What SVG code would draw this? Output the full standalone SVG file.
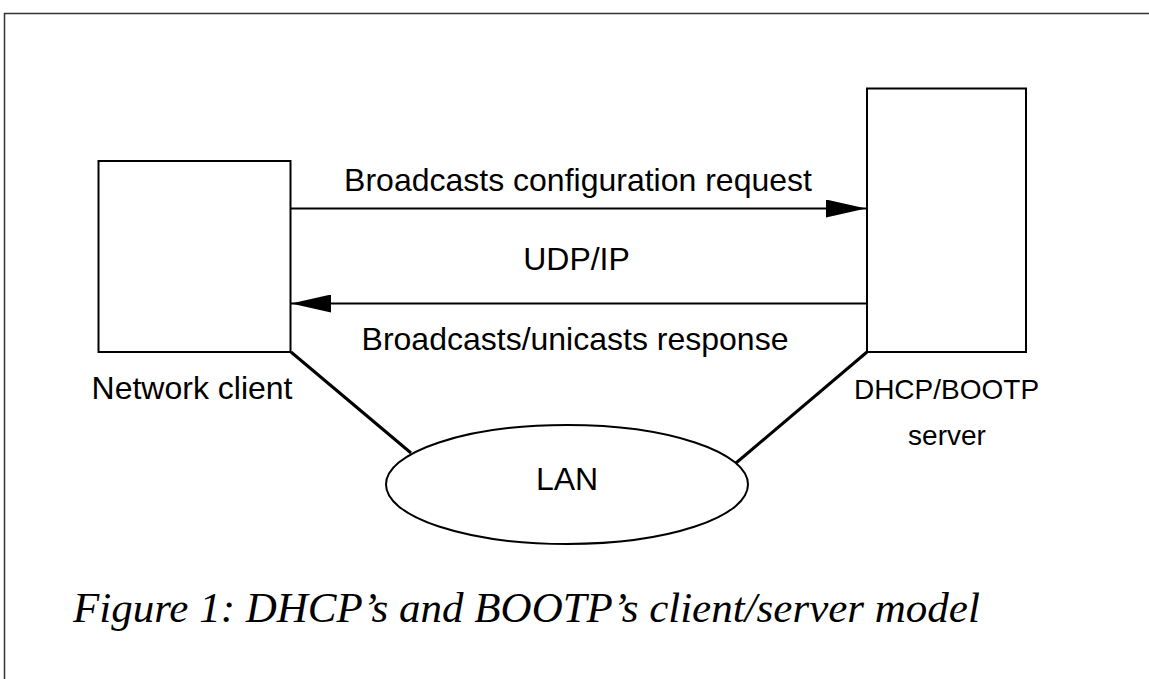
<svg xmlns="http://www.w3.org/2000/svg" width="1149" height="679" viewBox="0 0 1149 679">
  <style>
    .box { fill: #fff; stroke: #000; stroke-width: 2; }
    .lbl { font-family: "Liberation Sans", Arial, sans-serif; font-size: 32px; fill: #000; text-anchor: middle; }
    .srv { font-size: 28px; }
    .cap { font-family: "Liberation Serif", "Times New Roman", serif; font-style: italic; font-size: 43px; fill: #000; }
    .conn { stroke: #000; stroke-width: 2; fill: none; }
    .link { stroke: #000; stroke-width: 3; fill: none; }
  </style>
  <defs>
    <marker id="arrow" markerUnits="userSpaceOnUse" markerWidth="40" markerHeight="18" refX="40" refY="9" orient="auto">
      <path d="M0,0 L40,9 L0,18 Z" fill="#000"/>
    </marker>
  </defs>
  <rect width="1149" height="679" fill="#fff"/>
  <path d="M4.5,679 V13.5 H1149" fill="none" stroke="#333" stroke-width="1.5"/>

  <g id="connectors">
    <line class="conn" x1="291" y1="208.5" x2="866" y2="208.5" marker-end="url(#arrow)"/>
    <line class="conn" x1="866" y1="303.5" x2="291" y2="303.5" marker-end="url(#arrow)"/>
    <line class="link" x1="291" y1="352" x2="411" y2="453"/>
    <line class="link" x1="867" y1="352" x2="736" y2="463"/>
    <text class="lbl" x="578" y="191">Broadcasts configuration request</text>
    <text class="lbl" x="576.5" y="270">UDP/IP</text>
    <text class="lbl" x="575" y="350">Broadcasts/unicasts response</text>
  </g>

  <g id="network-client">
    <rect class="box" x="98.5" y="161" width="192" height="191"/>
    <text class="lbl" x="192" y="399">Network client</text>
  </g>

  <g id="dhcp-server">
    <rect class="box" x="867" y="88.5" width="159" height="263.5"/>
    <text class="lbl srv" x="946.5" y="399">DHCP/BOOTP</text>
    <text class="lbl srv" x="947" y="445">server</text>
  </g>

  <g id="lan">
    <ellipse class="box" cx="567" cy="484.5" rx="181" ry="59.5"/>
    <text class="lbl" x="567" y="490">LAN</text>
  </g>

  <text class="cap" x="73" y="622">Figure 1: DHCP’s and BOOTP’s client/server model</text>
</svg>
